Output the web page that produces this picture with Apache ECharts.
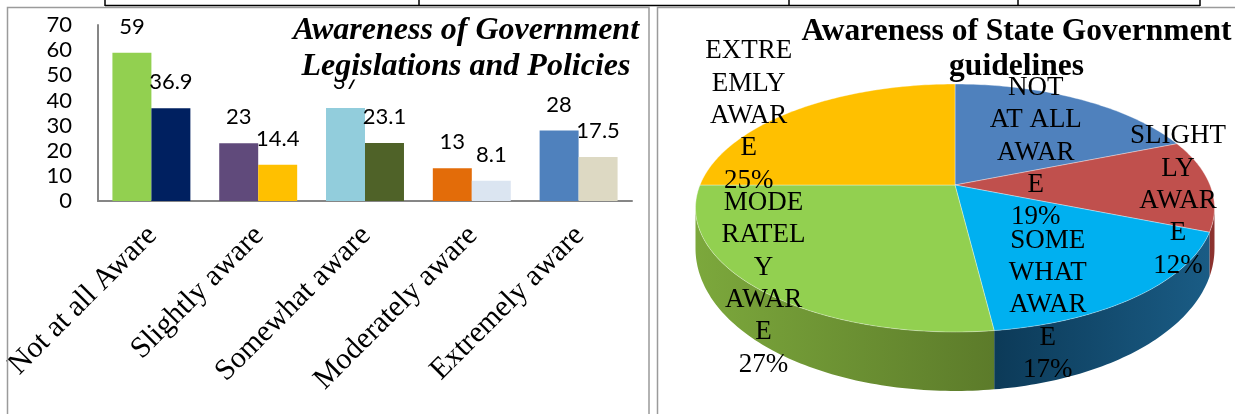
<!DOCTYPE html>
<html><head><meta charset="utf-8">
<script src="https://cdn.jsdelivr.net/npm/echarts@6/dist/echarts.min.js"></script>
<style>html,body{margin:0;padding:0;background:#fff}#c{width:1235px;height:414px}</style>
</head><body><div id="c"></div>
<script>
// ---------- DATA ----------
const barCategories = ['Not at all Aware', 'Slightly aware', 'Somewhat aware', 'Moderately aware', 'Extremely aware'];
const barSeriesA = [59, 23, 37, 13, 28];
const barSeriesB = [36.9, 14.4, 23.1, 8.1, 17.5];
const yAxisMin = 0, yAxisMax = 70, yAxisStep = 10;
const barTitle = 'Awareness of Government\nLegislations and Policies';

const pieNames = ['NOT AT ALL AWARE', 'SLIGHTLY AWARE', 'SOMEWHAT AWARE', 'MODERATELY AWARE', 'EXTREEMLY AWARE'];
const pieValues = [19, 12, 17, 27, 25];
const pieTitle = 'Awareness of State Government\nguidelines';

// ---------- STYLE / LAYOUT ----------
const barColorsA = ['#92D050', '#604A7B', '#92CDDC', '#E36C09', '#4F81BD'];
const barColorsB = ['#002060', '#FFC000', '#4F6228', '#DBE5F1', '#DDD9C3'];
const pieColors = ['#4F81BD', '#C0504D', '#00B0F0', '#92D050', '#FFC000'];
const pieSideColors = [['#2E4F77', '#3A6395'], ['#8A302D', '#8E3431'], ['#0C3A58', '#1A5C85'], ['#7CA83C', '#5C7B2A'], ['#B38600', '#8F6B00']];
const PIE = { cx: 955, cy: 185, bx: 255, ay: 119.7, k: 0.1855, t0: 36, t1: 23 };
const pieLabelOffsets = [[2, 22], [70, 16], [-10, 58], [-81, 40], [-106, -22]];
const pieLabelFont = { size: 27, family: 'Liberation Serif', lineHeight: 32.4 };

const measureCtx = document.createElement('canvas').getContext('2d');
try { measureCtx.fontKerning = 'none'; } catch (e) {}
function wrapWords(text, font, maxW) {
  measureCtx.font = font;
  const w = t => measureCtx.measureText(t).width;
  const out = []; let line = '';
  text.split(' ').forEach(word => {
    if (line && w(line + ' ' + word) <= maxW) { line += ' ' + word; return; }
    if (line) { out.push(line); line = ''; }
    let rest = word;
    while (rest.length > 1 && w(rest) > maxW) {
      let k = rest.length;
      while (k > 1 && w(rest.slice(0, k)) > maxW) k--;
      out.push(rest.slice(0, k)); rest = rest.slice(k);
    }
    line = rest;
  });
  if (line) out.push(line);
  return out;
}

function proj(c, s) {
  const d = 1 - PIE.k * s;
  return [PIE.cx + PIE.bx * c / d, PIE.cy + PIE.ay * s / d];
}

function renderPie(params, api) {
  const i = params.dataIndex;
  const total = pieValues.reduce((a, b) => a + b, 0);
  let before = 0;
  for (let j = 0; j < i; j++) before += pieValues[j];
  const v = api.value(0);
  const TWO_PI = Math.PI * 2;
  const a0 = before / total * TWO_PI, a1 = (before + v) / total * TWO_PI;
  const step = Math.PI / 180;
  const children = [];

  // side wall
  const vis0 = Math.acos(-PIE.k), vis1 = TWO_PI - vis0;
  const s0 = Math.max(a0, vis0), s1 = Math.min(a1, vis1);
  if (s1 > s0) {
    const upper = [], lower = [];
    const ns = Math.max(2, Math.ceil((s1 - s0) / step));
    for (let m = 0; m <= ns; m++) {
      const a = s0 + (s1 - s0) * m / ns;
      const c = Math.sin(a), s = -Math.cos(a);
      const p = proj(c, s);
      upper.push(p);
      lower.push([p[0], p[1] + PIE.t0 + PIE.t1 * s]);
    }
    const sc = pieSideColors[i];
    children.push({
      type: 'polygon',
      shape: { points: upper.concat(lower.reverse()) },
      style: { fill: new echarts.graphic.LinearGradient(0, 0, 1, 0, [{ offset: 0, color: sc[0] }, { offset: 1, color: sc[1] }]) }
    });
  }

  // top face
  const top = [[PIE.cx, PIE.cy]];
  const n = Math.max(2, Math.ceil((a1 - a0) / step));
  for (let m = 0; m <= n; m++) {
    const a = a0 + (a1 - a0) * m / n;
    top.push(proj(Math.sin(a), -Math.cos(a)));
  }
  children.push({
    type: 'polygon',
    shape: { points: top },
    style: { fill: pieColors[i], stroke: 'rgba(255,255,255,0.35)', lineWidth: 1 }
  });

  // label
  const am = (a0 + a1) / 2;
  const lp = proj(0.6 * Math.sin(am), -0.6 * Math.cos(am));
  const font = pieLabelFont.size + 'px "' + pieLabelFont.family + '"';
  const lines = wrapWords(pieNames[i], font, 3.583 * pieLabelFont.size);
  lines.push(Math.round(v / total * 100) + '%');
  children.push({
    type: 'text',
    z2: 100,
    style: {
      text: lines.join('\n'),
      x: lp[0] + pieLabelOffsets[i][0],
      y: lp[1] + pieLabelOffsets[i][1],
      align: 'center', verticalAlign: 'middle',
      fontSize: pieLabelFont.size, fontFamily: pieLabelFont.family,
      lineHeight: pieLabelFont.lineHeight, fill: '#000'
    }
  });
  return { type: 'group', children: children };
}

const chart = echarts.init(document.getElementById('c'), null, { renderer: 'canvas' });
const border = '#9b9b9b';
const tableLineXs = [105, 419, 789, 1018, 1200];
const graphics = [
  { type: 'rect', z: 100, silent: true, shape: { x: 7.5, y: 7.5, width: 641.5, height: 420 }, style: { fill: 'none', stroke: border, lineWidth: 1.5 } },
  { type: 'rect', z: 100, silent: true, shape: { x: 657.5, y: 7.5, width: 600, height: 420 }, style: { fill: 'none', stroke: border, lineWidth: 1.5 } },
  { type: 'line', z: 100, silent: true, shape: { x1: 105, y1: 5.5, x2: 1200, y2: 5.5 }, style: { stroke: '#000', lineWidth: 1.5 } }
].concat(tableLineXs.map(x => ({ type: 'line', z: 100, silent: true, shape: { x1: x, y1: 0, x2: x, y2: 6 }, style: { stroke: '#000', lineWidth: 1.5 } })));

const option = {
  animation: false,
  backgroundColor: '#fff',
  title: [
    {
      text: barTitle, left: 461, top: 7.5, textAlign: 'center', textVerticalAlign: 'top',
      backgroundColor: '#fff', padding: [5, 5, -5, 5],
      textStyle: { fontFamily: 'Liberation Serif', fontStyle: 'italic', fontWeight: 'bold', fontSize: 32, lineHeight: 36, color: '#000' }
    },
    {
      text: pieTitle, left: 1011.5, top: 9, textAlign: 'center', textVerticalAlign: 'top',
      textStyle: { fontFamily: 'Liberation Serif', fontWeight: 'bold', fontSize: 31.5, lineHeight: 35, color: '#000' }
    }
  ],
  grid: [
    { left: 98, top: 25, width: 534, height: 176, outerBoundsMode: 'none' },
    { left: 99, top: 25, width: 534, height: 176, outerBoundsMode: 'none' }
  ],
  xAxis: [
    {
      type: 'category', gridIndex: 0, data: barCategories,
      axisLine: { show: true, lineStyle: { color: '#868686', width: 2 } },
      axisTick: { show: false }, axisLabel: { show: false }, splitLine: { show: false }
    },
    {
      type: 'category', gridIndex: 1, data: barCategories,
      axisLine: { show: false }, axisTick: { show: false }, splitLine: { show: false },
      axisLabel: { interval: 0, rotate: 45, margin: 30, fontFamily: 'Liberation Serif', fontSize: 30, color: '#000' }
    }
  ],
  yAxis: [
    {
      type: 'value', gridIndex: 0, min: yAxisMin, max: yAxisMax, interval: yAxisStep,
      axisLine: { show: true, lineStyle: { color: '#868686', width: 2 } },
      axisTick: { show: false }, splitLine: { show: false },
      axisLabel: { margin: 26, fontFamily: 'Lato', fontSize: 22, color: '#000' }
    },
    { type: 'value', gridIndex: 1, show: false }
  ],
  graphic: graphics,
  series: [
    {
      type: 'bar', xAxisIndex: 0, yAxisIndex: 0, data: barSeriesA,
      barGap: '0%', barCategoryGap: '27%',
      itemStyle: { color: p => barColorsA[p.dataIndex] },
      label: { show: true, position: 'top', distance: 15, fontFamily: 'Lato', fontSize: 22, color: '#000' }
    },
    {
      type: 'bar', xAxisIndex: 0, yAxisIndex: 0, data: barSeriesB,
      barGap: '0%', barCategoryGap: '27%',
      itemStyle: { color: p => barColorsB[p.dataIndex] },
      label: { show: true, position: 'top', distance: 15, fontFamily: 'Lato', fontSize: 22, color: '#000' }
    },
    {
      type: 'custom', coordinateSystem: 'none', data: pieValues, renderItem: renderPie
    }
  ]
};
chart.setOption(option);
</script>
</body></html>
